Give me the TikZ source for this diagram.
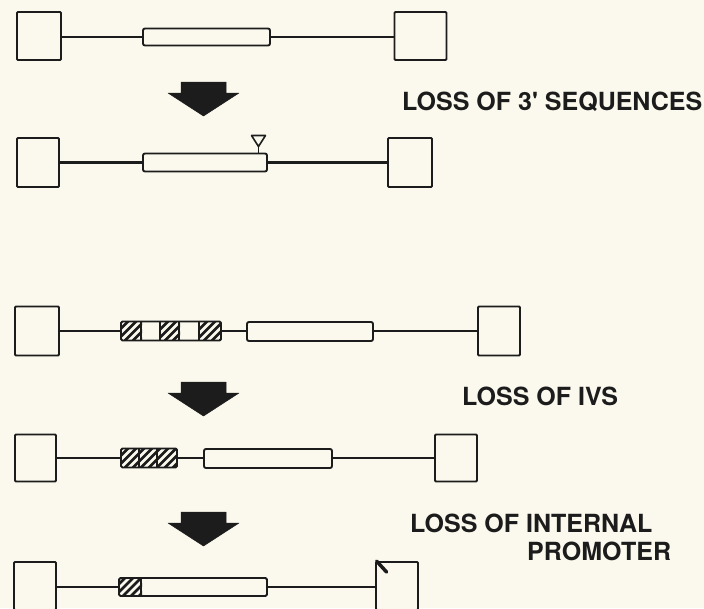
\documentclass[tikz,border=0pt]{standalone}
\usepackage{fontspec}
\newfontfamily\lblfont{TeX Gyre Heros}
\definecolor{bg}{RGB}{251,249,237}
\definecolor{ink}{RGB}{28,28,28}
\newcommand\hatchrect[4]{%
  \begin{scope}
    \clip (#1,#2) rectangle (#3,#4);
    \foreach \k in {-28,-20,...,64} \draw[ink,line width=2.6pt] ({#1+\k},#4) -- ++(26,-26);
  \end{scope}}
\tikzset{
  endbox/.style={draw=ink, line width=1.9pt, fill=bg, inner sep=0pt, rounded corners=1pt},
  gene/.style={draw=ink, line width=1.9pt, fill=bg, inner sep=0pt, rounded corners=2pt, minimum height=18pt},
  hblock/.style={draw=ink, line width=1.9pt, inner sep=0pt, rounded corners=1.5pt, minimum height=19pt},
  link/.style={draw=ink, line width=2.6pt},
  divider/.style={draw=ink, line width=1.5pt},
  bigarrow/.style={fill=ink, draw=ink, line width=0.5pt, line join=round},
  lbl/.style={inner sep=0pt, anchor=base west, text=ink, font=\lblfont\bfseries\fontsize{25}{28}\selectfont}
}
\begin{document}
\begin{tikzpicture}[x=1pt, y=-1pt]
\fill[bg] (0,0) rectangle (704,608);
\useasboundingbox (0,0) rectangle (704,608);
\clip (0,0) rectangle (704,608);

% ---------- Diagram 1 ----------
\node[endbox, minimum width=44pt, minimum height=48pt] (L1) at (39,36) {};
\node[gene, minimum width=127pt, minimum height=17pt] (G1) at (206.5,37) {};
\node[endbox, minimum width=52pt, minimum height=48pt] (R1) at (420.5,36) {};
\draw[link] (L1.east |- G1.west) -- (G1.west);
\draw[link] (G1.east) -- (R1.west |- G1.east);

% arrow 1
\draw[bigarrow] (181,82) -- (226,82) -- (226,93) -- (239,93) -- (203.5,116) -- (168,93) -- (181,93) -- cycle;
\node[lbl] (t1) at (402,110) {LOSS OF 3\char"0027\ SEQUENCES};

% ---------- Diagram 2 ----------
\node[endbox, minimum width=42pt, minimum height=49pt] (L2) at (38,162.5) {};
\node[gene, minimum width=124pt] (G2) at (205,162.5) {};
\node[endbox, minimum width=44pt, minimum height=49pt] (R2) at (410,162.5) {};
\draw[link] (L2.east) -- (G2.west);
\draw[link] (G2.east) -- (R2.west);
\coordinate (tip2) at (258.5,146.5);
\draw[ink, line width=1.6pt, line join=round] (251.5,135.5) -- (265.5,135.5) -- (tip2) -- cycle;
\draw[ink, line width=1.6pt] (tip2) -- (tip2 |- G2.north);

% arrow 2
\draw[bigarrow] (181,382) -- (226,382) -- (226,393) -- (239,393) -- (203.5,416) -- (168,393) -- (181,393) -- cycle;
\node[lbl] (t2) at (462,405) {LOSS OF IVS};

% ---------- Diagram 3 ----------
\node[endbox, minimum width=44pt, minimum height=49pt] (L3) at (37,331) {};
\hatchrect{121}{321.5}{142}{340.5}
\hatchrect{161}{321.5}{180}{340.5}
\hatchrect{200}{321.5}{221}{340.5}
\node[hblock, minimum width=100pt] (H3) at (171,331) {};
\draw[divider] ([xshift=21pt]H3.north west) -- ([xshift=21pt]H3.south west);
\draw[divider] ([xshift=40pt]H3.north west) -- ([xshift=40pt]H3.south west);
\draw[divider] ([xshift=59pt]H3.north west) -- ([xshift=59pt]H3.south west);
\draw[divider] ([xshift=79pt]H3.north west) -- ([xshift=79pt]H3.south west);
\node[gene, minimum width=126pt, minimum height=19pt] (G3) at (310,331.5) {};
\node[endbox, minimum width=42pt, minimum height=49pt] (R3) at (499,331) {};
\draw[link] (L3.east) -- (H3.west);
\draw[link] (H3.east) -- (G3.west |- H3.east);
\draw[link] (G3.east |- R3.west) -- (R3.west);

% arrow 3
\draw[bigarrow] (181,512) -- (226,512) -- (226,523) -- (239,523) -- (203.5,546) -- (168,523) -- (181,523) -- cycle;
\node[lbl] (t3a) at (410,532) {LOSS OF INTERNAL};
\node[lbl] (t3b) at (527,560) {PROMOTER};

% ---------- Diagram 4 ----------
\node[endbox, minimum width=41pt, minimum height=47pt] (L4) at (35.5,458) {};
\hatchrect{121}{448.5}{177}{467.5}
\node[hblock, minimum width=56pt] (H4) at (149,458) {};
\draw[divider] ([xshift=19pt]H4.north west) -- ([xshift=19pt]H4.south west);
\draw[divider] ([xshift=37pt]H4.north west) -- ([xshift=37pt]H4.south west);
\node[gene, minimum width=128pt, minimum height=19pt] (G4) at (268,458.5) {};
\node[endbox, minimum width=42pt, minimum height=47pt] (R4) at (456,458) {};
\draw[link] (L4.east) -- (H4.west);
\draw[link] (H4.east) -- (G4.west |- H4.east);
\draw[link] (G4.east |- R4.west) -- (R4.west);

% ---------- Diagram 5 ----------
\node[endbox, minimum width=42pt, minimum height=48pt] (L5) at (35,586) {};
\hatchrect{119}{578}{142}{596}
\node[hblock, minimum width=148pt, minimum height=18pt] (G5) at (193,587) {};
\draw[divider] ([xshift=23pt]G5.north west) -- ([xshift=23pt]G5.south west);
\node[endbox, minimum width=42pt, minimum height=48pt] (R5) at (397,586) {};
\draw[link] (L5.east |- G5.west) -- (G5.west);
\draw[link] (G5.east) -- (R5.west |- G5.east);
\draw[ink, line width=3.5pt, line cap=round] ([xshift=1.5pt]R5.north west) -- ++(10,11);
\end{tikzpicture}
\end{document}
